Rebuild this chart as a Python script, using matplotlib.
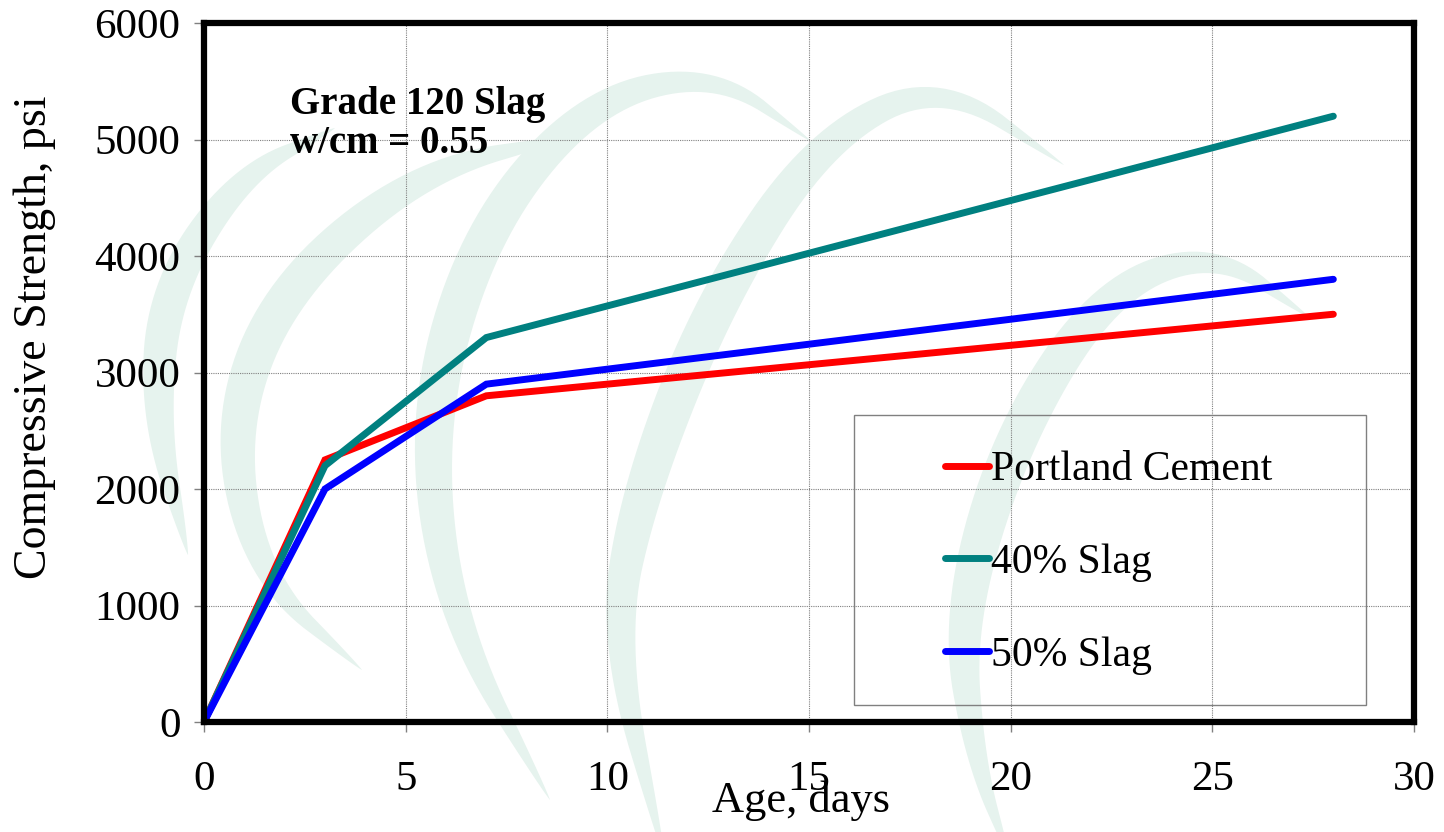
import numpy as np
import matplotlib.pyplot as plt
from matplotlib.patches import Polygon, Rectangle

plt.rcParams['font.family'] = ['Liberation Serif', 'DejaVu Serif']

# compressive strength vs age
age = [0, 3, 7, 28]
portland = [0, 2250, 2800, 3500]
slag40 = [0, 2200, 3300, 5200]
slag50 = [0, 2000, 2900, 3800]

labels = ['Portland Cement', '40% Slag', '50% Slag']
colors = ['#ff0000', '#008080', '#0000ff']

# background swirl centrelines (figure pixels, y down) and max widths
swirls = [
    ([(335, 128), (240, 175), (165, 290), (155, 420), (188, 555)], 34),
    ([(580, 135), (420, 170), (280, 290), (228, 430), (260, 580), (362, 670)], 38),
    ([(812, 142), (715, 72), (590, 100), (480, 230), (425, 420), (450, 620), (550, 800)], 40),
    ([(1064, 165), (940, 80), (820, 140), (715, 300), (640, 490), (612, 640), (665, 860)], 40),
    ([(1310, 318), (1215, 250), (1105, 290), (1010, 440), (958, 620), (975, 760), (1010, 860)], 40),
]


def chaikin(pts, n=4):
    pts = np.asarray(pts, float)
    for _ in range(n):
        q = 0.75 * pts[:-1] + 0.25 * pts[1:]
        r = 0.25 * pts[:-1] + 0.75 * pts[1:]
        new = np.empty((2 * len(q), 2))
        new[0::2] = q
        new[1::2] = r
        pts = np.vstack([pts[0], new, pts[-1]])
    return pts


def crescent(pts, wmax):
    c = chaikin(pts)
    d = np.gradient(c, axis=0)
    d /= np.linalg.norm(d, axis=1)[:, None]
    nrm = np.column_stack([-d[:, 1], d[:, 0]])
    s = np.concatenate([[0], np.cumsum(np.linalg.norm(np.diff(c, axis=0), axis=1))])
    s /= s[-1]
    w = wmax * np.sin(np.pi * s) ** 0.8 / 2
    return np.vstack([c + nrm * w[:, None], (c - nrm * w[:, None])[::-1]])


fig = plt.figure(figsize=(14.44, 8.32), dpi=100)

bg = fig.add_axes([0, 0, 1, 1], zorder=0)
bg.set_xlim(0, 1444)
bg.set_ylim(832, 0)
bg.axis('off')
for pts, w in swirls:
    bg.add_patch(Polygon(crescent(pts, w), closed=True, facecolor='#e6f3ee', edgecolor='none'))

ax = fig.add_axes([204 / 1444, 1 - 722 / 832, 1210 / 1444, 699 / 832], zorder=1)
ax.set_facecolor('none')

for y, lab, col in zip([portland, slag40, slag50], labels, colors):
    ax.plot(age, y, color=col, lw=5, label=lab, solid_capstyle='round', solid_joinstyle='miter')

ax.set_xlim(0, 30)
ax.set_ylim(0, 6000)
ax.set_xticks(range(0, 31, 5))
ax.set_yticks(range(0, 6001, 1000))
ax.grid(True, color='#808080', lw=0.8, ls=(0, (1, 1)))
ax.set_axisbelow(True)

for sp in ax.spines.values():
    sp.set_linewidth(4.5)
    sp.set_color('black')

ax.tick_params(axis='both', direction='out', length=7, width=1, color='#808080', labelsize=31)
ax.tick_params(axis='x', pad=21)
ax.tick_params(axis='y', pad=10)

ax.set_xlabel('Age, days', fontsize=32)
ax.xaxis.set_label_coords(0.493, -0.083)
ax.set_ylabel('Compressive Strength, psi', fontsize=33)
ax.yaxis.set_label_coords(-0.122, 0.55)

ax.text(0.071, 0.91, 'Grade 120 Slag\nw/cm = 0.55', transform=ax.transAxes,
        fontsize=28, fontweight='bold', va='top', ha='left', linespacing=1.08)

ax.add_patch(Rectangle((0.537, 0.0243), 0.423, 0.415, transform=ax.transAxes,
                       fill=False, edgecolor='#808080', lw=1))
ax.legend(loc='center left', bbox_to_anchor=(0.612, 0.228), frameon=False,
          fontsize=30, handlelength=1.07, handletextpad=0.05, labelspacing=1.3,
          borderpad=0, borderaxespad=0)

fig.savefig('out.png', dpi=100)
